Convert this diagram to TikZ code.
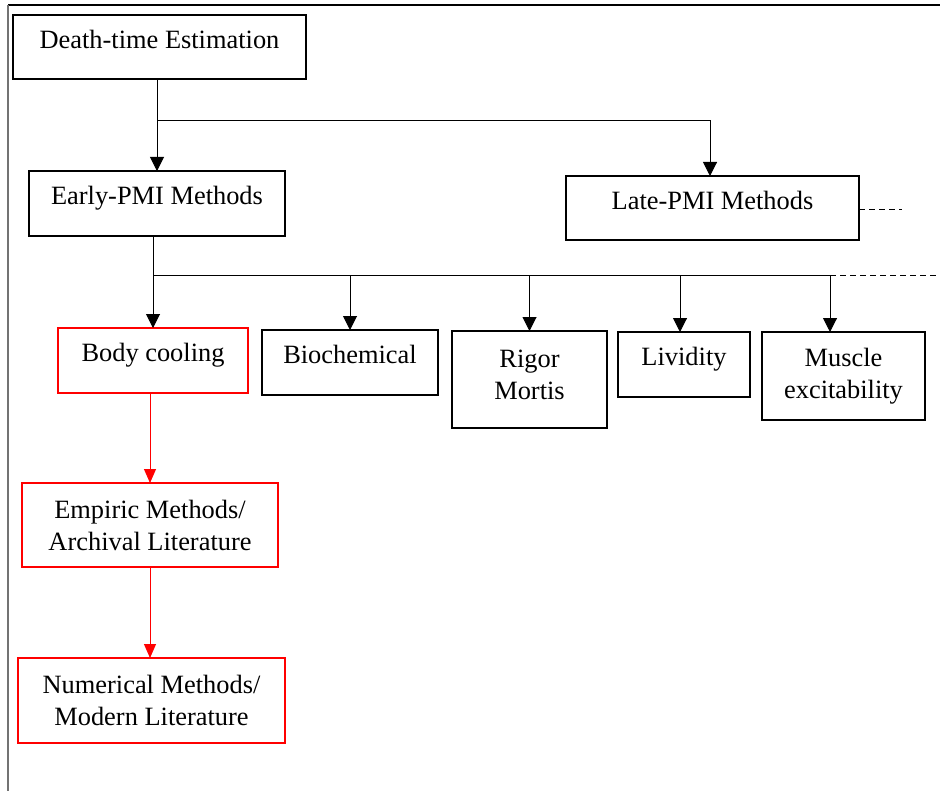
\documentclass[tikz,border=0pt]{standalone}
\usepackage{fontspec}
\setmainfont{Liberation Serif}
\usetikzlibrary{arrows.meta}
\tikzset{
  box/.style n args={2}{draw,line width=0.6pt,inner sep=0pt,outer sep=0pt,
    minimum width=#1,minimum height=#2,align=center},
  onebox/.style n args={2}{box={#1}{#2},text depth=8pt},
  redbox/.style={draw=red,line width=1.2pt},
  arr/.style={line width=0.5pt,-{Triangle[width=7pt,length=7pt]}},
  redarr/.style={line width=0.5pt,red,-{Triangle[width=6pt,length=7pt]}},
  dashline/.style={line width=0.5pt,dash pattern=on 3pt off 2pt}
}

\begin{document}
\begin{tikzpicture}[x=0.5pt,y=-0.5pt,font=\fontsize{13.2}{16}\selectfont]
\useasboundingbox (0,0) rectangle (940,791);
% frame
\draw[line width=1pt] (8,5)--(940,5);
\draw[line width=0.8pt,black!55] (8,5)--(8,791);

% boxes
\node[onebox={146.5pt}{32pt}] (death) at (159.5,47) {Death-time Estimation};
\node[onebox={128pt}{32.5pt}] (early) at (157,203.5) {Early-PMI Methods};
\node[onebox={146.5pt}{32pt}] (late) at (712.5,208) {Late-PMI Methods};
\node[onebox={95pt}{32.5pt},redbox] (body) at (153,360.5) {Body cooling};
\node[onebox={88pt}{32.5pt}] (bio) at (350,362.5) {Biochemical};
\node[box={77.5pt}{48.5pt}] (rigor) at (529.5,379.5) {Rigor\\Mortis\\[-11pt]{}};
\node[onebox={66pt}{32.5pt}] (livid) at (684,364.5) {Lividity};
\node[box={81.5pt}{44pt}] (muscle) at (843.5,376) {Muscle\\excitability};
\node[box={128pt}{42pt},redbox] (empiric) at (150,525) {Empiric Methods/\\Archival Literature};
\node[box={133.5pt}{42.5pt},redbox] (numeric) at (151.5,700.5) {Numerical Methods/\\Modern Literature};

% junctions
\coordinate (j1) at (157,121);
\coordinate (j2) at (153,275);
\coordinate (j3) at (830,275);
\coordinate (k2) at (940,275);
\coordinate (k1) at (902,209);

% black connectors
\draw[arr] (death.south -| early.north) -- (early.north);
\draw[arr] (j1) -| ([xshift=-1.25pt]late.north);
\draw[line width=0.5pt] (early.south -| j2) -- (j2) -- (j3);
\draw[dashline] (j3) -- (k2);
\draw[dashline] (late.east |- k1) -- (k1);
\draw[arr] (j2) -- (body.north);
\draw[arr] (j2 -| bio.north) -- (bio.north);
\draw[arr] (j2 -| rigor.north) -- (rigor.north);
\draw[arr] ([xshift=-2pt]j2 -| livid.north) -- ([xshift=-2pt]livid.north);
\draw[arr] (j3) -- (j3 |- muscle.north);

% red connectors
\draw[redarr] (empiric.north |- body.south) -- (empiric.north);
\draw[redarr] (empiric.south) -- (empiric.south |- numeric.north);
\end{tikzpicture}
\end{document}
